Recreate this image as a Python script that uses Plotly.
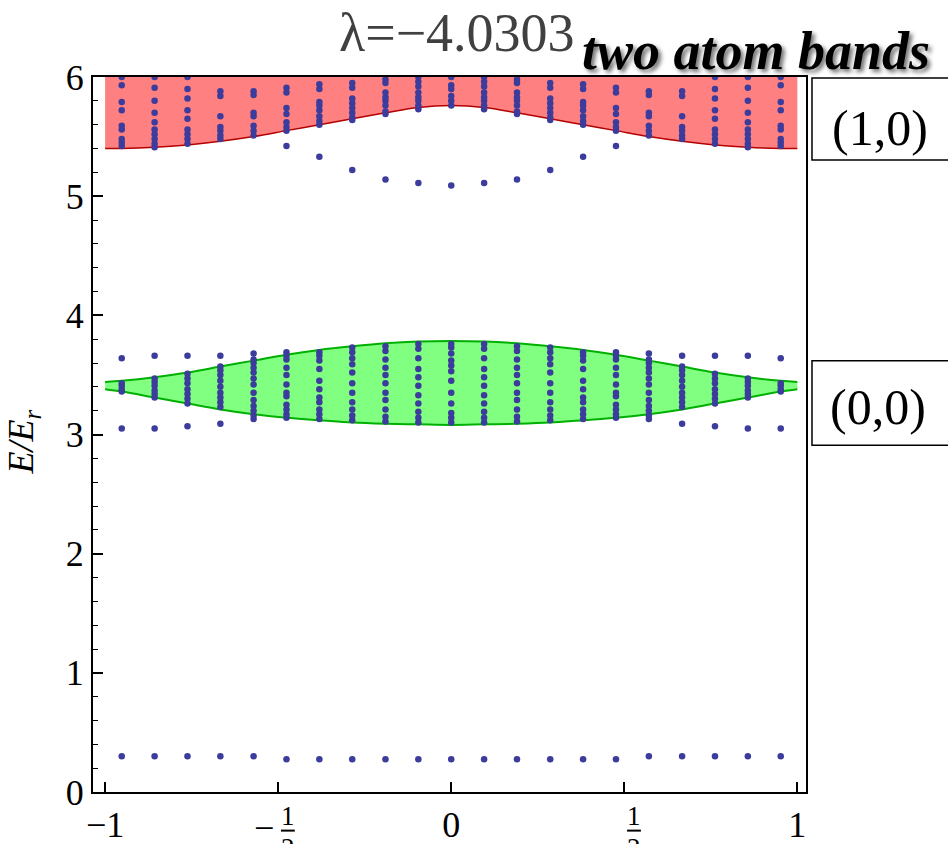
import plotly.graph_objects as go

# Quasi-momentum columns (21 sampled k values) and band-edge sample points
k_cols = [-0.952, -0.857, -0.762, -0.667, -0.571, -0.476, -0.381, -0.286, -0.190, -0.095,
          0.0, 0.095, 0.190, 0.286, 0.381, 0.476, 0.571, 0.667, 0.762, 0.857, 0.952]
k_edge = [-1.0] + k_cols + [1.0]

# (0,0) band edges
green_top = [3.44, 3.45, 3.48, 3.52, 3.57, 3.62, 3.67, 3.71, 3.74, 3.765, 3.78, 3.785,
             3.78, 3.765, 3.74, 3.71, 3.67, 3.62, 3.57, 3.52, 3.48, 3.45, 3.44]
green_bot = [3.38, 3.36, 3.31, 3.26, 3.21, 3.17, 3.14, 3.12, 3.10, 3.09, 3.085, 3.08,
             3.085, 3.09, 3.10, 3.12, 3.14, 3.17, 3.21, 3.26, 3.31, 3.36, 3.38]

# (1,0) band lower edge (upper edge lies above the plotted range)
red_bot = [5.40, 5.40, 5.41, 5.43, 5.46, 5.50, 5.55, 5.60, 5.65, 5.70, 5.745, 5.76,
           5.745, 5.70, 5.65, 5.60, 5.55, 5.50, 5.46, 5.43, 5.41, 5.40, 5.40]
red_top = [6.4] * 23

# Two-atom spectrum, one list of energies per k column
green_cols = [
    [3.05, 3.36, 3.38, 3.41, 3.43, 3.64],
    [3.05, 3.31, 3.34, 3.37, 3.41, 3.44, 3.47, 3.66],
    [3.07, 3.26, 3.30, 3.34, 3.38, 3.43, 3.47, 3.51, 3.66],
    [3.09, 3.23, 3.27, 3.31, 3.35, 3.40, 3.45, 3.50, 3.54, 3.57, 3.66],
    [3.13, 3.16, 3.20, 3.24, 3.29, 3.35, 3.42, 3.47, 3.52, 3.56, 3.60, 3.63, 3.68],
    [3.14, 3.17, 3.21, 3.25, 3.32, 3.35, 3.42, 3.50, 3.56, 3.63, 3.66, 3.69],
    [3.13, 3.17, 3.21, 3.27, 3.31, 3.38, 3.45, 3.55, 3.62, 3.66, 3.69],
    [3.12, 3.16, 3.21, 3.27, 3.35, 3.43, 3.52, 3.59, 3.64, 3.69, 3.73],
    [3.11, 3.15, 3.21, 3.29, 3.35, 3.43, 3.50, 3.56, 3.63, 3.70, 3.74],
    [3.10, 3.14, 3.19, 3.26, 3.33, 3.41, 3.48, 3.55, 3.64, 3.72, 3.76],
    [3.10, 3.14, 3.18, 3.26, 3.35, 3.45, 3.53, 3.58, 3.62, 3.68, 3.73, 3.76],
    [3.10, 3.14, 3.19, 3.26, 3.33, 3.41, 3.48, 3.55, 3.64, 3.72, 3.76],
    [3.11, 3.15, 3.21, 3.29, 3.35, 3.43, 3.50, 3.56, 3.63, 3.70, 3.74],
    [3.12, 3.16, 3.21, 3.27, 3.35, 3.43, 3.52, 3.59, 3.64, 3.69, 3.73],
    [3.13, 3.17, 3.21, 3.27, 3.31, 3.38, 3.45, 3.55, 3.62, 3.66, 3.69],
    [3.14, 3.17, 3.21, 3.25, 3.32, 3.35, 3.42, 3.50, 3.56, 3.63, 3.66, 3.69],
    [3.13, 3.16, 3.20, 3.24, 3.29, 3.35, 3.42, 3.47, 3.52, 3.56, 3.60, 3.63, 3.68],
    [3.09, 3.23, 3.27, 3.31, 3.35, 3.40, 3.45, 3.50, 3.54, 3.57, 3.66],
    [3.07, 3.26, 3.30, 3.34, 3.38, 3.43, 3.47, 3.51, 3.66],
    [3.05, 3.31, 3.34, 3.37, 3.41, 3.44, 3.47, 3.66],
    [3.05, 3.36, 3.38, 3.41, 3.43, 3.64],
]

red_cols = [
    [5.42, 5.45, 5.48, 5.56, 5.59, 5.72, 5.79, 5.93, 6.00],
    [5.41, 5.44, 5.48, 5.52, 5.56, 5.62, 5.70, 5.80, 5.91, 6.00],
    [5.44, 5.48, 5.52, 5.56, 5.65, 5.72, 5.82, 5.90, 6.00],
    [5.48, 5.51, 5.55, 5.58, 5.67, 5.84, 5.88],
    [5.51, 5.55, 5.59, 5.67, 5.70, 5.85, 5.88],
    [5.42, 5.55, 5.58, 5.62, 5.69, 5.74, 5.87, 5.91],
    [5.33, 5.60, 5.63, 5.67, 5.72, 5.76, 5.79, 5.90, 5.94],
    [5.22, 5.64, 5.66, 5.70, 5.74, 5.78, 5.82, 5.91, 5.95],
    [5.14, 5.69, 5.71, 5.76, 5.80, 5.83, 5.87, 5.95, 5.98],
    [5.11, 5.73, 5.76, 5.80, 5.83, 5.87, 5.92, 5.96, 6.00],
    [5.09, 5.76, 5.80, 5.84, 5.90, 5.93, 6.00],
    [5.11, 5.73, 5.76, 5.80, 5.83, 5.87, 5.92, 5.96, 6.00],
    [5.14, 5.69, 5.71, 5.76, 5.80, 5.83, 5.87, 5.95, 5.98],
    [5.22, 5.64, 5.66, 5.70, 5.74, 5.78, 5.82, 5.91, 5.95],
    [5.33, 5.60, 5.63, 5.67, 5.72, 5.76, 5.79, 5.90, 5.94],
    [5.42, 5.55, 5.58, 5.62, 5.69, 5.74, 5.87, 5.91],
    [5.51, 5.55, 5.59, 5.67, 5.70, 5.85, 5.88],
    [5.48, 5.51, 5.55, 5.58, 5.67, 5.84, 5.88],
    [5.44, 5.48, 5.52, 5.56, 5.65, 5.72, 5.82, 5.90, 6.00],
    [5.41, 5.44, 5.48, 5.52, 5.56, 5.62, 5.70, 5.80, 5.91, 6.00],
    [5.42, 5.45, 5.48, 5.56, 5.59, 5.72, 5.79, 5.93, 6.00],
]

bound_row = [0.30, 0.30, 0.30, 0.30, 0.30, 0.275, 0.275, 0.275, 0.275, 0.275, 0.275,
             0.275, 0.275, 0.275, 0.275, 0.275, 0.30, 0.30, 0.30, 0.30, 0.30]

y_ticks = [0, 1, 2, 3, 4, 5, 6]
x_ticks = [-1, 0, 1]
x_ticktext = ["\u22121", "0", "1"]
x_half_ticks = [-0.5, 0.5]

SERIF = "Liberation Serif"
DOT = "#3c3c9c"

fig = go.Figure()

# (1,0) band
fig.add_trace(go.Scatter(x=k_edge, y=red_bot, mode="lines", line=dict(color="#b40000", width=1.5, shape="spline"),
                         hoverinfo="skip"))
fig.add_trace(go.Scatter(x=k_edge, y=red_top, mode="lines", line=dict(width=0, shape="spline"),
                         fill="tonexty", fillcolor="rgb(255,128,128)", hoverinfo="skip"))

# (0,0) band
fig.add_trace(go.Scatter(x=k_edge, y=green_bot, mode="lines", line=dict(color="#00b000", width=2, shape="spline"),
                         hoverinfo="skip"))
fig.add_trace(go.Scatter(x=k_edge, y=green_top, mode="lines", line=dict(color="#00b000", width=2, shape="spline"),
                         fill="tonexty", fillcolor="rgb(128,255,128)", hoverinfo="skip"))

# Spectrum points
xs, ys = [], []
for cols in (green_cols, red_cols):
    for k, col in zip(k_cols, cols):
        xs += [k] * len(col)
        ys += col
xs += k_cols
ys += bound_row
fig.add_trace(go.Scatter(x=xs, y=ys, mode="markers", marker=dict(color=DOT, size=6.5, line=dict(width=0))))

axis_common = dict(showline=True, linecolor="black", linewidth=2, mirror=True, showgrid=False,
                   zeroline=False, ticks="inside", tickcolor="black", tickwidth=1.5, automargin=False,
                   tickfont=dict(family=SERIF, size=36, color="black"))

fig.update_xaxes(range=[-1.035, 1.025], tickvals=x_ticks, ticktext=x_ticktext, ticklen=10,
                 minor=dict(tickvals=x_half_ticks, ticks="inside", ticklen=10, tickwidth=1.5,
                            tickcolor="black", showgrid=False),
                 **axis_common)
fig.update_yaxes(range=[0, 6], tickvals=y_ticks, ticklen=10,
                 minor=dict(dtick=0.2, ticks="inside", ticklen=5, tickwidth=1.2, tickcolor="black", showgrid=False),
                 **axis_common)


def note(text, x, y, size, xref="paper", yref="paper", **font):
    return dict(text=text, x=x, y=y, xref=xref, yref=yref, showarrow=False,
                xanchor="center", yanchor="middle",
                font=dict(family=SERIF, size=size, color=font.pop("color", "black"), **font))


annotations = [
    note("\u03bb=\u22124.0303", 0.511, 1.062, 54, color="#404040"),
    note("two atom bands", 0.93, 1.036, 54, weight="bold", style="italic",
         shadow="3px 3px 4px rgba(0,0,0,0.55)"),
    note("E/E<sub>r</sub>", -0.097, 0.49, 36, style="italic"),
    note("(1,0)", 1.104, 0.929, 50),
    note("(0,0)", 1.101, 0.538, 50),
]
annotations[2]["textangle"] = -90

# stacked fractions for the +-1/2 tick labels
for xv in x_half_ticks:
    if xv < 0:
        annotations.append(note("\u2212", xv - 0.04, -0.050, 36, xref="x"))
    annotations.append(note("1", xv + 0.028, -0.033, 27, xref="x"))
    annotations.append(note("2", xv + 0.028, -0.078, 27, xref="x"))
fig.update_layout(annotations=annotations)

shapes = [
    dict(type="rect", xref="paper", yref="paper", x0=1.0084, x1=1.21, y0=0.884, y1=0.9986,
         line=dict(color="black", width=1.5), fillcolor="white", layer="below"),
    dict(type="rect", xref="paper", yref="paper", x0=1.0084, x1=1.21, y0=0.485, y1=0.603,
         line=dict(color="black", width=1.5), fillcolor="white", layer="below"),
]
for xv in x_half_ticks:
    shapes.append(dict(type="line", xref="x", yref="paper", x0=xv + 0.008, x1=xv + 0.048, y0=-0.054, y1=-0.054,
                       line=dict(color="black", width=2)))
fig.update_layout(shapes=shapes)

fig.update_layout(width=948, height=844, margin=dict(l=93, r=142, t=77, b=52),
                  plot_bgcolor="white", paper_bgcolor="white", showlegend=False)

fig.write_html("out.html")
